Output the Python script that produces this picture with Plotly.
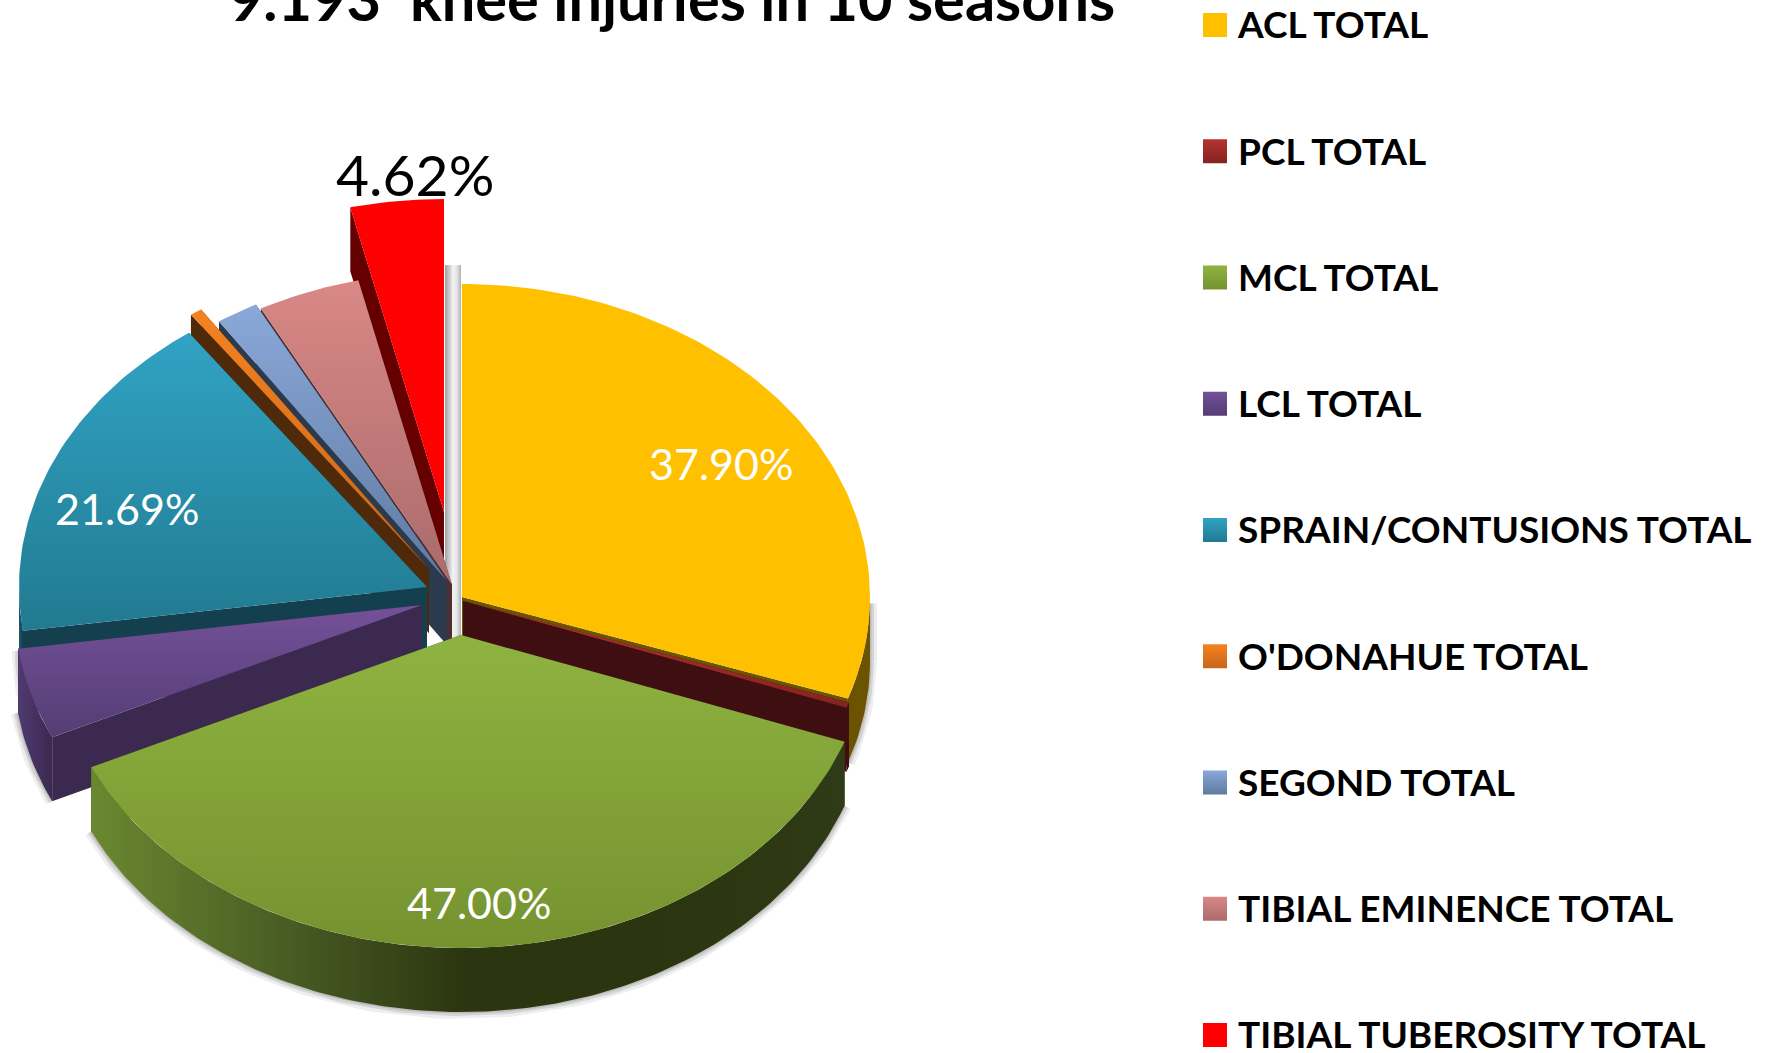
import math
import plotly.graph_objects as go

categories = ["ACL TOTAL", "PCL TOTAL", "MCL TOTAL", "LCL TOTAL", "SPRAIN/CONTUSIONS TOTAL",
              "O'DONAHUE TOTAL", "SEGOND TOTAL", "TIBIAL EMINENCE TOTAL", "TIBIAL TUBEROSITY TOTAL"]
values = [37.90, 0.35, 47.00, 5.9, 21.69, 0.6, 2.1, 5.1, 4.62]
labelled = [True, False, True, False, True, False, False, False, True]

title_text = "9.193\u00a0\u00a0knee injuries in 10 seasons"

# styling (top gradient from/to, wall colour, rim gradient from/to)
top_from = ["#FFC000", "#B5332F", "#8FB341", "#73519A", "#31A3C4", "#F58220", "#8AA8D9", "#D98886", "#FF0000"]
top_to = ["#FFC000", "#842320", "#75922F", "#553D73", "#217A90", "#C8651A", "#5F7AA0", "#A96B6B", "#FF0000"]
wall = ["#6B5300", "#3E0E10", "#33421A", "#3B2950", "#143F4F", "#4E2A0B", "#2C3A4E", "#4B2F35", "#660000"]
rim = [
    ["#6B5300", "#6B5300"], ["#3E0E10", "#3E0E10"],
    ["#6A8830", "#4A5E24", "#2B3510", "#2B3510", "#2F3B16"],
    ["#503A70", "#3B2950"], ["#1C5A6E", "#143F4F"], ["#4E2A0B", "#4E2A0B"],
    ["#2C3A4E", "#2C3A4E"], ["#4B2F35", "#4B2F35"], ["#660000", "#660000"],
]
# position of each slice tip on the page, after the slices were pulled apart
tips = [(462, 597), (463, 601), (461, 635), (422, 605), (427, 587), (429, 569), (447, 581), (452, 585), (444, 512)]
RX, RY, DEPTH = 408, 313, 64
label_pos = {0: (721, 463), 2: (479, 902), 4: (127, 508), 8: (415, 174)}
label_size = {0: 43, 2: 43, 4: 43, 8: 57}
label_color = {0: "white", 2: "white", 4: "white", 8: "black"}

total = sum(values)
starts, ends = [], []
a = 0.0
for v in values:
    starts.append(a)
    a += v / total * 360
    ends.append(a)


def pt(tip, theta, dy=0):
    t = math.radians(theta)
    return tip[0] + RX * math.sin(t), tip[1] - RY * math.cos(t) + dy


def arc(tip, t0, t1, dy=0):
    n = max(2, int(abs(t1 - t0)) + 2)
    return [pt(tip, t0 + (t1 - t0) * i / (n - 1), dy) for i in range(n)]


fig = go.Figure()


def poly(points, name, color=None, grad=None, gtype="vertical"):
    xs = [p[0] for p in points] + [points[0][0]]
    ys = [p[1] for p in points] + [points[0][1]]
    kw = {}
    if grad:
        n = len(grad) - 1
        kw["fillgradient"] = dict(type=gtype, colorscale=[[i / n, c] for i, c in enumerate(grad)])
    else:
        kw["fillcolor"] = color
    fig.add_trace(go.Scatter(x=xs, y=ys, mode="lines", fill="toself", name=name, showlegend=False,
                             hoverinfo="skip", line=dict(width=0, color="rgba(0,0,0,0)"), **kw))


def shadow(points, name):
    for w, alpha in ((14, 0.10), (8, 0.16), (3, 0.2)):
        fig.add_trace(go.Scatter(x=[p[0] for p in points], y=[p[1] for p in points], mode="lines",
                                 showlegend=False, hoverinfo="skip", name=name,
                                 line=dict(width=w, color=f"rgba(90,90,90,{alpha})")))


def draw_slice(i):
    tip = tips[i]
    t0, t1 = starts[i], ends[i]
    name = categories[i]
    r0, r1 = max(t0, 90), min(t1, 270)
    rim_pts = None
    if r1 > r0:
        rim_pts = arc(tip, r0, r1) + arc(tip, r1, r0, DEPTH)
        if i in (0, 2, 3, 4):
            shadow(arc(tip, r0, r1, DEPTH), name)
            if i == 0:
                shadow([pt(tip, r0, DEPTH * 0.1), pt(tip, r0, DEPTH)], name)
    for t in (t0, t1):
        poly([tip, pt(tip, t), pt(tip, t, DEPTH), (tip[0], tip[1] + DEPTH)], name, color=wall[i])
    if rim_pts:
        poly(rim_pts, name, grad=rim[i], gtype="horizontal")
    # the y axis runs downward, so the gradient stops are listed bottom first
    poly([tip] + arc(tip, t0, t1), name, grad=[top_to[i], top_from[i]])


# pale shaft left behind the pulled-out slices
shaft_x0, shaft_x1 = tips[8][0] + 1, tips[0][0] - 1
poly([(shaft_x0, 265), (shaft_x1, 265), (shaft_x1, 638), (shaft_x0, 638)], "shaft",
     grad=["#A0A0A0", "#C8C8C8", "#F4F4F4", "#E4E4E4", "#B0B0B0"], gtype="horizontal")

for i in [8, 7, 6, 5, 4, 3, 0, 1, 2]:
    draw_slice(i)

# key
key_x, key_text_x = 1215, 1238
key_y0, key_step = 25, 126.25
key_y = [key_y0 + key_step * i for i in range(len(categories))]
fig.add_trace(go.Scatter(
    x=[key_x] * len(categories), y=key_y, mode="markers", showlegend=False, hoverinfo="skip",
    marker=dict(symbol="square", size=24, color=top_from, line=dict(width=0),
                gradient=dict(type="vertical", color=top_to)),
    cliponaxis=False,
))
fig.add_trace(go.Scatter(
    x=[key_text_x] * len(categories), y=[y + 4 for y in key_y], mode="text", text=categories,
    textposition="middle right", showlegend=False, hoverinfo="skip",
    textfont=dict(family="Lato", size=37, color="black", weight="bold"), cliponaxis=False,
))

annotations = [
    dict(x=label_pos[i][0], y=label_pos[i][1], xref="x", yref="y", text=f"{values[i]:.2f}%", showarrow=False,
         font=dict(family="Lato", size=label_size[i], color=label_color[i]))
    for i in range(len(values)) if labelled[i]
]

fig.update_layout(
    width=1767, height=1053, margin=dict(l=0, r=0, t=0, b=0),
    paper_bgcolor="white", plot_bgcolor="white", showlegend=False,
    title=dict(text=title_text, x=672 / 1767, xanchor="center", y=1.0, yanchor="middle",
               font=dict(family="Lato", size=59.5, color="black", weight="bold")),
    xaxis=dict(range=[0, 1767], visible=False, fixedrange=True),
    yaxis=dict(range=[1053, 0], visible=False, fixedrange=True),
    annotations=annotations,
)
fig.write_html("out.html", config={"displayModeBar": False},
               post_script="document.body.style.margin='0';document.documentElement.style.overflow='hidden';")
